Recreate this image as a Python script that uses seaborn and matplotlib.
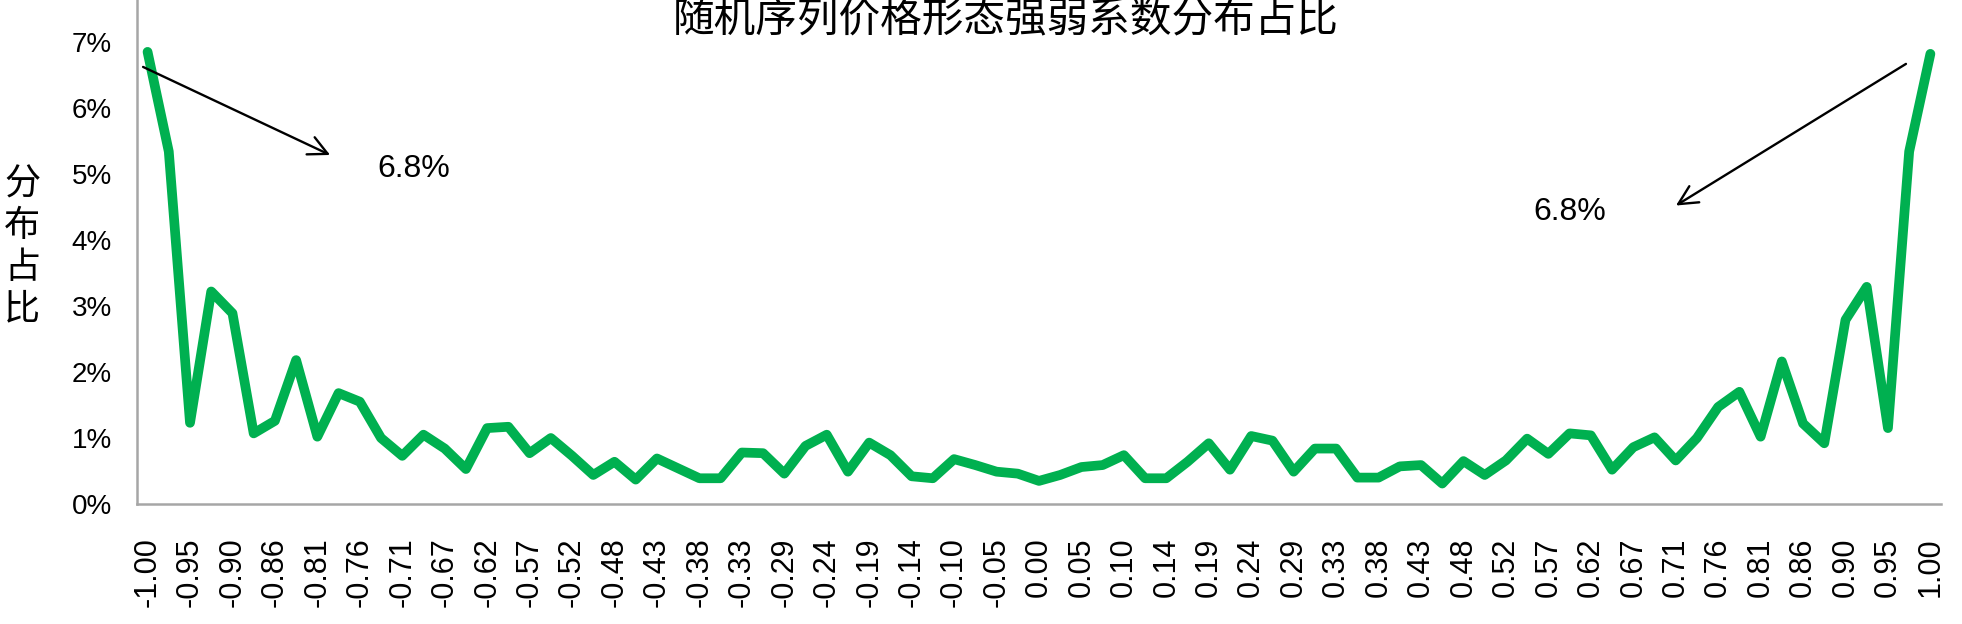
import numpy as np
import pandas as pd
import matplotlib
matplotlib.use("Agg")
import matplotlib.pyplot as plt
import seaborn as sns

# distribution share (%) of the strength coefficient, 85 buckets from -1.00 to 1.00
share_pct = [
    6.85, 5.34, 1.23, 3.22, 2.89, 1.07, 1.26, 2.18, 1.02, 1.68,
    1.55, 1.00, 0.73, 1.05, 0.84, 0.53, 1.15, 1.17, 0.77, 1.00,
    0.73, 0.44, 0.64, 0.37, 0.69, 0.54, 0.39, 0.39, 0.78, 0.77,
    0.46, 0.88, 1.05, 0.49, 0.93, 0.74, 0.42, 0.39, 0.68, 0.59,
    0.49, 0.46, 0.35, 0.44, 0.56, 0.59, 0.74, 0.39, 0.39, 0.64,
    0.92, 0.52, 1.03, 0.96, 0.49, 0.84, 0.84, 0.40, 0.40, 0.57,
    0.59, 0.31, 0.65, 0.44, 0.66, 0.99, 0.76, 1.07, 1.04, 0.52,
    0.86, 1.01, 0.66, 1.00, 1.47, 1.70, 1.02, 2.16, 1.22, 0.92,
    2.79, 3.29, 1.15, 5.34, 6.82,
]

# tick labels shown under every second bucket
tick_labels = [
    "-1.00", "-0.95", "-0.90", "-0.86", "-0.81", "-0.76", "-0.71", "-0.67",
    "-0.62", "-0.57", "-0.52", "-0.48", "-0.43", "-0.38", "-0.33", "-0.29",
    "-0.24", "-0.19", "-0.14", "-0.10", "-0.05", "0.00", "0.05", "0.10",
    "0.14", "0.19", "0.24", "0.29", "0.33", "0.38", "0.43", "0.48",
    "0.52", "0.57", "0.62", "0.67", "0.71", "0.76", "0.81", "0.86",
    "0.90", "0.95", "1.00",
]

y_ticks = [0, 1, 2, 3, 4, 5, 6, 7]
peak_label = "6.8%"
title = "随机序列价格形态强弱系数分布占比"
y_label = "分布占比"

df = pd.DataFrame({"bucket": np.arange(len(share_pct)), "share": np.array(share_pct) / 100})

sns.set_style("white")
plt.rcParams["font.family"] = ["Liberation Sans", "Noto Sans CJK SC", "DejaVu Sans"]
plt.rcParams["text.color"] = "black"

fig = plt.figure(figsize=(19.62, 6.24), dpi=100)
ax = fig.add_axes([0.0698, 0.1923, 0.9195, 0.8077])

sns.lineplot(data=df, x="bucket", y="share", ax=ax, color="#00B050", linewidth=7,
             solid_capstyle="round", solid_joinstyle="round")

n = len(share_pct)
ax.set_xlim(-0.5, n - 0.5)
ax.set_ylim(0, 0.07636)

# y axis
ax.set_yticks([v / 100 for v in y_ticks])
ax.set_yticklabels([f"{v}%" for v in y_ticks], fontsize=20)
# x axis: tick marks between buckets, labels on every second bucket
ax.set_xticks(np.arange(0, n, 2))
ax.set_xticklabels(tick_labels, rotation=90, fontsize=22, va="top")
ax.set_xticks(np.arange(n + 1) - 0.5, minor=True)
ax.tick_params(axis="x", which="major", length=0, pad=24, labelcolor="black")
ax.tick_params(axis="x", which="minor", length=8, width=1.5, color="#A6A6A6", direction="out")
ax.tick_params(axis="y", which="major", length=8, width=1.5, color="#A6A6A6", direction="out",
               pad=10, labelcolor="black")

for side in ["top", "right"]:
    ax.spines[side].set_visible(False)
for side in ["left", "bottom"]:
    ax.spines[side].set_color("#A6A6A6")
    ax.spines[side].set_linewidth(1.8)

ax.set_xlabel("")
ax.set_ylabel("")

# annotations pointing at both tails
arrow = dict(arrowstyle="->", color="black", lw=1.7, mutation_scale=34)
ax.annotate("", xy=(8.72, 0.0527), xytext=(-0.33, 0.0664), arrowprops=arrow)
ax.annotate("", xy=(71.9, 0.0450), xytext=(82.96, 0.0669), arrowprops=arrow)
ax.text(12.55, 0.0508, peak_label, fontsize=23, ha="center", va="center", color="black")
ax.text(67.03, 0.0442, peak_label, fontsize=23, ha="center", va="center", color="black")

fig.text(0.5125, 1 - 32 / 624, title, fontsize=30, ha="center", va="baseline", color="black",
         family=["Noto Sans CJK SC", "DejaVu Sans"])
fig.text(22 / 1962, 1 - 247 / 624, "\n".join(y_label), fontsize=26, ha="center", va="center",
         linespacing=1.2, color="black", family=["Noto Sans CJK SC", "DejaVu Sans"])

fig.savefig("out.png", dpi=100)
